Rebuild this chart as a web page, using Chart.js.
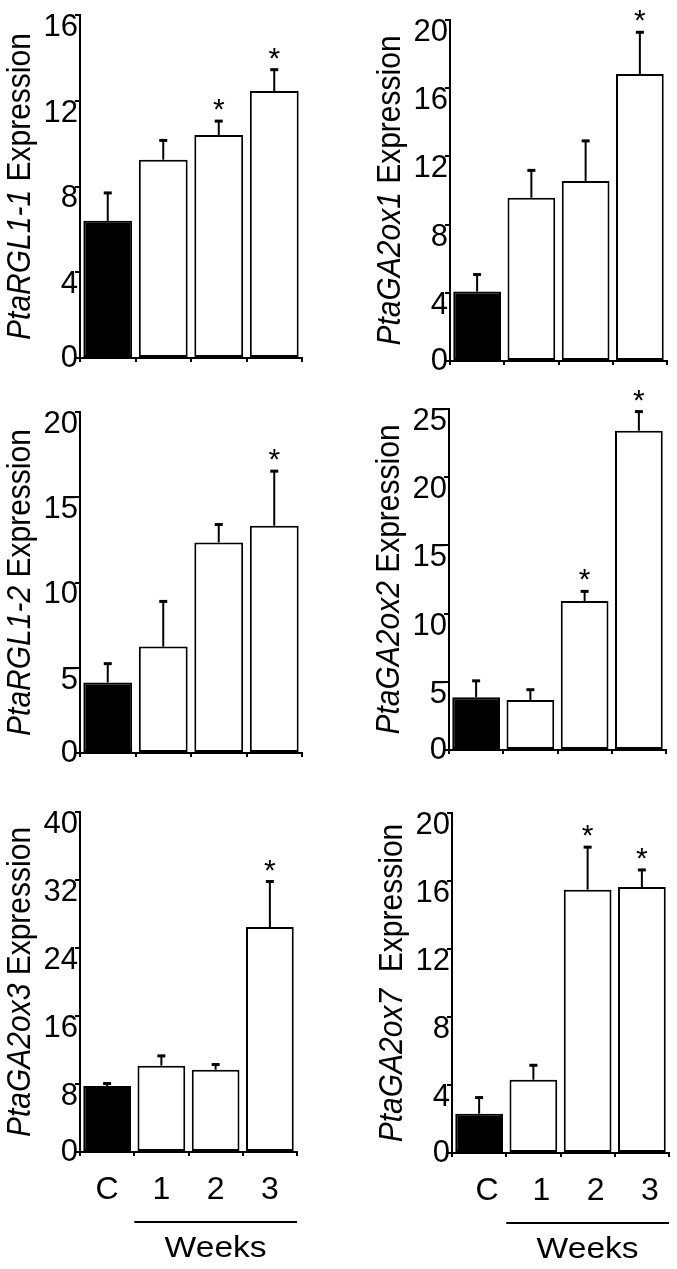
<!DOCTYPE html>
<html>
<head>
<meta charset="utf-8">
<script src="https://cdn.jsdelivr.net/npm/chart.js@4.4.1/dist/chart.umd.min.js"></script>
<style>
  body { margin: 0; background: #fff; width: 677px; height: 1269px; overflow: hidden; position: relative; }
  canvas { position: absolute; }
</style>
</head>
<body>
<script>
// datos
const categorias = ['C', '1', '2', '3'];

const rgl11Valores = [6.4, 9.25, 10.4, 12.45];
const rgl11Error = [1.3, 0.9, 0.65, 1.0];
const rgl11Sig = [false, false, true, true];
const rgl11Ticks = [0, 4, 8, 12, 16];

const ga2ox1Valores = [4.07, 9.58, 10.56, 16.83];
const ga2ox1Error = [1.0, 1.6, 2.35, 2.45];
const ga2ox1Sig = [false, false, false, true];
const ga2ox1Ticks = [0, 4, 8, 12, 16, 20];

const rgl12Valores = [4.14, 6.24, 12.35, 13.33];
const rgl12Error = [1.1, 2.65, 1.05, 3.2];
const rgl12Sig = [false, false, false, true];
const rgl12Ticks = [0, 5, 10, 15, 20];

const ga2ox2Valores = [3.87, 3.67, 10.93, 23.41];
const ga2ox2Error = [1.2, 0.75, 0.7, 1.4];
const ga2ox2Sig = [false, false, true, true];
const ga2ox2Ticks = [0, 5, 10, 15, 20, 25];

const ga2ox3Valores = [7.76, 10.16, 9.69, 26.47];
const ga2ox3Error = [0.3, 1.15, 0.6, 5.35];
const ga2ox3Sig = [false, false, false, true];
const ga2ox3Ticks = [0, 8, 16, 24, 32, 40];

const ga2ox7Valores = [2.31, 4.31, 15.49, 15.65];
const ga2ox7Error = [0.95, 0.85, 2.5, 1.0];
const ga2ox7Sig = [false, false, true, true];
const ga2ox7Ticks = [0, 4, 8, 12, 16, 20];

const FUENTE = '"Liberation Sans", Arial, Helvetica, sans-serif';
const ANCHO_Y = 60;
const PAD_TOP = 45;
const ESTIRA = 1.12; // el texto del original esta algo ensanchado

const paneles = [
  { gen: 'PtaRGL1-1', resto: ' Expression', valores: rgl11Valores, errores: rgl11Error, sig: rgl11Sig, ticks: rgl11Ticks,
    col: 0, ancho: 338, area: { l: 80, t: 15, b: 358, r: 302 }, abajo: false },
  { gen: 'PtaGA2ox1', resto: ' Expression', valores: ga2ox1Valores, errores: ga2ox1Error, sig: ga2ox1Sig, ticks: ga2ox1Ticks,
    col: 338, ancho: 339, area: { l: 450, t: 20, b: 361, r: 667 }, abajo: false },
  { gen: 'PtaRGL1-2', resto: ' Expression', valores: rgl12Valores, errores: rgl12Error, sig: rgl12Sig, ticks: rgl12Ticks,
    col: 0, ancho: 338, area: { l: 80, t: 412, b: 753, r: 302 }, abajo: false },
  { gen: 'PtaGA2ox2', resto: ' Expression', valores: ga2ox2Valores, errores: ga2ox2Error, sig: ga2ox2Sig, ticks: ga2ox2Ticks,
    col: 338, ancho: 339, area: { l: 449, t: 409, b: 750, r: 666 }, abajo: false },
  { gen: 'PtaGA2ox3', resto: ' Expression', valores: ga2ox3Valores, errores: ga2ox3Error, sig: ga2ox3Sig, ticks: ga2ox3Ticks,
    col: 0, ancho: 338, area: { l: 80, t: 812, b: 1152, r: 297 }, abajo: true, desplaza: 0 },
  { gen: 'PtaGA2ox7', resto: '  Expression', valores: ga2ox7Valores, errores: ga2ox7Error, sig: ga2ox7Sig, ticks: ga2ox7Ticks,
    col: 338, ancho: 339, area: { l: 452, t: 813, b: 1153, r: 669 }, abajo: true, desplaza: 8 }
];

// barras de error, asteriscos, titulo del eje y "Weeks"
const extras = {
  id: 'extras',
  afterDatasetsDraw(chart, args, opts) {
    const p = opts.panel;
    const ctx = chart.ctx;
    const x = chart.scales.x;
    const y = chart.scales.y;
    ctx.save();
    ctx.strokeStyle = '#000';
    ctx.fillStyle = '#000';
    p.valores.forEach((v, i) => {
      const cx = x.getPixelForValue(i);
      const y0 = y.getPixelForValue(v);
      const y1 = y.getPixelForValue(v + p.errores[i]);
      ctx.lineWidth = 2;
      ctx.beginPath();
      ctx.moveTo(cx, y0);
      ctx.lineTo(cx, y1);
      ctx.stroke();
      ctx.lineWidth = 3;
      ctx.beginPath();
      ctx.moveTo(cx - 4, y1);
      ctx.lineTo(cx + 4, y1);
      ctx.stroke();
      if (p.sig[i]) {
        ctx.font = '30px ' + FUENTE;
        ctx.textAlign = 'center';
        ctx.textBaseline = 'alphabetic';
        ctx.fillText('*', cx, y1 - 2);
      }
    });
    ctx.restore();
  },
  afterDraw(chart, args, opts) {
    const p = opts.panel;
    const ctx = chart.ctx;
    const area = chart.chartArea;
    ctx.save();
    ctx.fillStyle = '#000';
    ctx.translate(area.left - 59, (area.top + area.bottom) / 2);
    ctx.scale(ESTIRA, 1);
    ctx.rotate(-Math.PI / 2);
    ctx.textBaseline = 'middle';
    ctx.textAlign = 'left';
    const fItal = 'italic 30px ' + FUENTE;
    const fNorm = '30px ' + FUENTE;
    ctx.font = fItal;
    const w1 = ctx.measureText(p.gen).width;
    ctx.font = fNorm;
    const w2 = ctx.measureText(p.resto).width;
    const x0 = -(w1 + w2) / 2;
    ctx.font = fItal;
    ctx.fillText(p.gen, x0, 0);
    ctx.font = fNorm;
    ctx.fillText(p.resto, x0 + w1, 0);
    ctx.restore();

    if (p.abajo) {
      const xs = chart.scales.x;
      const xa = xs.getPixelForValue(0.5);
      const xb = area.right;
      const yl = area.bottom + 70;
      ctx.save();
      ctx.strokeStyle = '#000';
      ctx.lineWidth = 2;
      ctx.beginPath();
      ctx.moveTo(xa, yl);
      ctx.lineTo(xb, yl);
      ctx.stroke();
      ctx.fillStyle = '#000';
      ctx.font = '30px ' + FUENTE;
      ctx.textAlign = 'center';
      ctx.textBaseline = 'middle';
      ctx.translate((xa + xb) / 2, yl + 27);
      ctx.scale(ESTIRA, 1);
      ctx.fillText('Weeks', 0, 0);
      ctx.restore();
    }
  }
};

function crearPanel(p) {
  const altoX = p.abajo ? 115 : 12;
  const top = p.area.t - PAD_TOP;
  const alto = p.area.b + altoX - top;
  const canvas = document.createElement('canvas');
  canvas.style.left = p.col + 'px';
  canvas.style.top = top + 'px';
  canvas.style.width = p.ancho + 'px';
  canvas.style.height = alto + 'px';
  canvas.width = p.ancho;
  canvas.height = alto;
  document.body.appendChild(canvas);

  const maxY = p.ticks[p.ticks.length - 1];
  const paso = p.ticks[1] - p.ticks[0];

  new Chart(canvas, {
    type: 'bar',
    data: {
      labels: categorias,
      datasets: [{
        data: p.valores,
        backgroundColor: p.valores.map((v, i) => i === 0 ? '#000' : '#fff'),
        borderColor: '#000',
        borderWidth: 2,
        borderSkipped: false,
        barPercentage: 0.88,
        categoryPercentage: 1
      }]
    },
    options: {
      responsive: false,
      animation: false,
      events: [],
      layout: {
        padding: {
          top: PAD_TOP,
          left: p.area.l - p.col - ANCHO_Y,
          right: p.col + p.ancho - p.area.r,
          bottom: 0
        }
      },
      plugins: {
        legend: { display: false },
        tooltip: { enabled: false },
        extras: { panel: p }
      },
      scales: {
        x: {
          offset: true,
          grid: { offset: true, drawOnChartArea: false, drawTicks: true, tickLength: 4, color: '#000', lineWidth: 2 },
          border: { display: true, color: '#000', width: 2 },
          ticks: {
            display: p.abajo,
            color: '#000',
            padding: 15,
            labelOffset: p.desplaza || 0,
            maxRotation: 0,
            font: { family: FUENTE, size: 32 }
          },
          afterFit(scale) {
            scale.height = altoX;
            scale.paddingLeft = 0;
            scale.paddingRight = 0;
          }
        },
        y: {
          min: 0,
          max: maxY,
          grid: { drawOnChartArea: false, drawTicks: true, tickLength: 5, color: '#000', lineWidth: 2 },
          border: { display: true, color: '#000', width: 2 },
          ticks: {
            stepSize: paso,
            color: '#000',
            padding: -3,
            font: { family: FUENTE, size: 31, lineHeight: 0.8 },
            callback: (v) => v === 0 ? '0' : ['', String(v)]
          },
          afterFit(scale) {
            scale.width = ANCHO_Y;
            scale.paddingTop = 0;
            scale.paddingBottom = 0;
          }
        }
      }
    },
    plugins: [extras]
  });
}

paneles.forEach(crearPanel);
</script>
</body>
</html>
